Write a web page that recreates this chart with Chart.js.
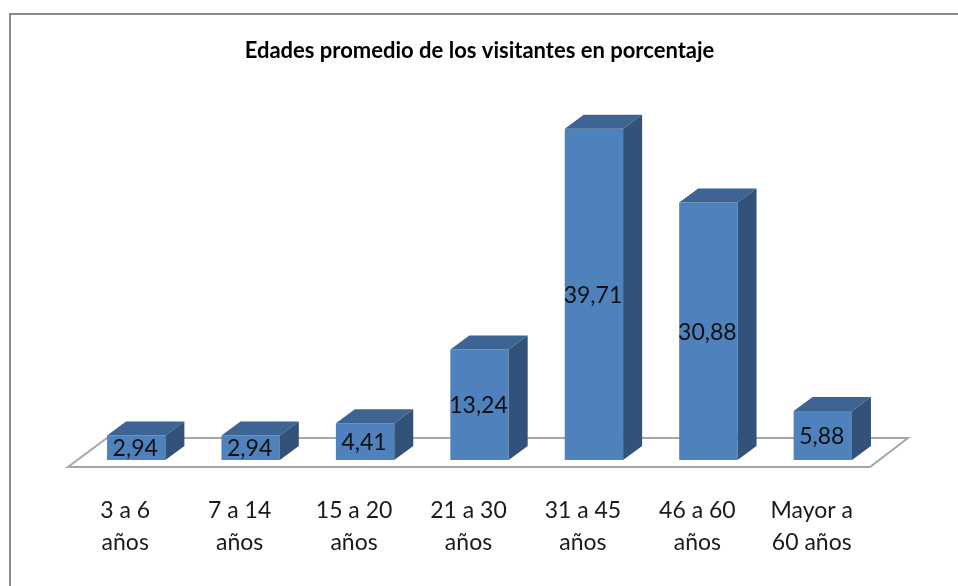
<!DOCTYPE html>
<html>
<head>
<meta charset="utf-8">
<script src="https://cdn.jsdelivr.net/npm/chart.js@4.4.1/dist/chart.umd.min.js"></script>
<style>
  html, body { margin: 0; padding: 0; background: #fff; }
  canvas { display: block; }
</style>
</head>
<body>
<canvas id="edadesChart" width="958" height="586"></canvas>
<script>
// Data
const categories = [
    ['3 a 6', 'años'],
    ['7 a 14', 'años'],
    ['15 a 20', 'años'],
    ['21 a 30', 'años'],
    ['31 a 45', 'años'],
    ['46 a 60', 'años'],
    ['Mayor a', '60 años']
];
const percentages = [2.94, 2.94, 4.41, 13.24, 39.71, 30.88, 5.88];
const chartTitle = 'Edades promedio de los visitantes en porcentaje';

const FONT = 'Lato, "Open Sans", sans-serif';

// depth of the 3D bars (px)
const depthX = 19;
const depthY = 14;

// Draws the frame, the floor and the 3D faces + value labels
const bars3d = {
    id: 'bars3d',
    beforeDraw(chart) {
        const ctx = chart.ctx;
        ctx.save();
        ctx.fillStyle = '#ffffff';
        ctx.fillRect(0, 0, chart.width, chart.height);
        ctx.strokeStyle = '#8c8c8c';
        ctx.lineWidth = 2;
        ctx.beginPath();
        ctx.moveTo(10, chart.height + 5);
        ctx.lineTo(10, 14);
        ctx.lineTo(chart.width + 5, 14);
        ctx.stroke();
        ctx.restore();
    },
    beforeDatasetsDraw(chart) {
        const ctx = chart.ctx;
        const area = chart.chartArea;
        const base = chart.scales.y.getPixelForValue(0);
        ctx.save();
        ctx.beginPath();
        ctx.moveTo(area.left - 11, base + 7);
        ctx.lineTo(area.right - 10, base + 7);
        ctx.lineTo(area.right + 28, base - 22);
        ctx.lineTo(area.left + 28, base - 22);
        ctx.closePath();
        ctx.fillStyle = '#ffffff';
        ctx.fill();
        ctx.strokeStyle = '#a6a6a6';
        ctx.lineWidth = 2;
        ctx.stroke();
        ctx.restore();
    },
    afterDatasetsDraw(chart) {
        const ctx = chart.ctx;
        const meta = chart.getDatasetMeta(0);
        ctx.save();
        meta.data.forEach((bar, i) => {
            const p = bar.getProps(['x', 'y', 'base', 'width'], true);
            const l = p.x - p.width / 2;
            const r = p.x + p.width / 2;
            // top face
            ctx.beginPath();
            ctx.moveTo(l, p.y);
            ctx.lineTo(r, p.y);
            ctx.lineTo(r + depthX, p.y - depthY);
            ctx.lineTo(l + depthX, p.y - depthY);
            ctx.closePath();
            ctx.fillStyle = '#3d6492';
            ctx.fill();
            // side face
            ctx.beginPath();
            ctx.moveTo(r, p.y);
            ctx.lineTo(r + depthX, p.y - depthY);
            ctx.lineTo(r + depthX, p.base - depthY);
            ctx.lineTo(r, p.base);
            ctx.closePath();
            ctx.fillStyle = '#325279';
            ctx.fill();
            // value label
            ctx.fillStyle = '#111111';
            ctx.font = '23px ' + FONT;
            ctx.textAlign = 'center';
            ctx.textBaseline = 'middle';
            const txt = percentages[i].toFixed(2).replace('.', ',');
            ctx.fillText(txt, p.x - 1, (p.y + p.base) / 2 + 1);
        });
        ctx.restore();
    }
};

new Chart(document.getElementById('edadesChart').getContext('2d'), {
    type: 'bar',
    data: {
        labels: categories,
        datasets: [{
            label: 'Porcentaje',
            data: percentages,
            backgroundColor: '#4f81bd',
            borderWidth: 0,
            barPercentage: 0.51,
            categoryPercentage: 1
        }]
    },
    options: {
        responsive: false,
        animation: false,
        layout: {
            padding: { left: 79, right: 78, top: 0, bottom: 0 }
        },
        scales: {
            x: {
                grid: { display: false, drawTicks: false },
                border: { display: false },
                ticks: {
                    color: '#1a1a1a',
                    font: { family: FONT, size: 23, lineHeight: 1.4 },
                    padding: 34,
                    labelOffset: -11,
                    maxRotation: 0,
                    autoSkip: false
                },
                afterFit(scale) {
                    scale.height = 126; // puts the floor at y = 460
                }
            },
            y: {
                display: false,
                min: 0,
                max: 46.7
            }
        },
        plugins: {
            legend: { display: false },
            tooltip: { enabled: false },
            title: {
                display: true,
                text: chartTitle,
                color: '#000000',
                font: { family: FONT, size: 22, weight: 'bold', lineHeight: 1.2 },
                padding: { top: 38, bottom: 6 }
            }
        }
    },
    plugins: [bars3d]
});
</script>
</body>
</html>
